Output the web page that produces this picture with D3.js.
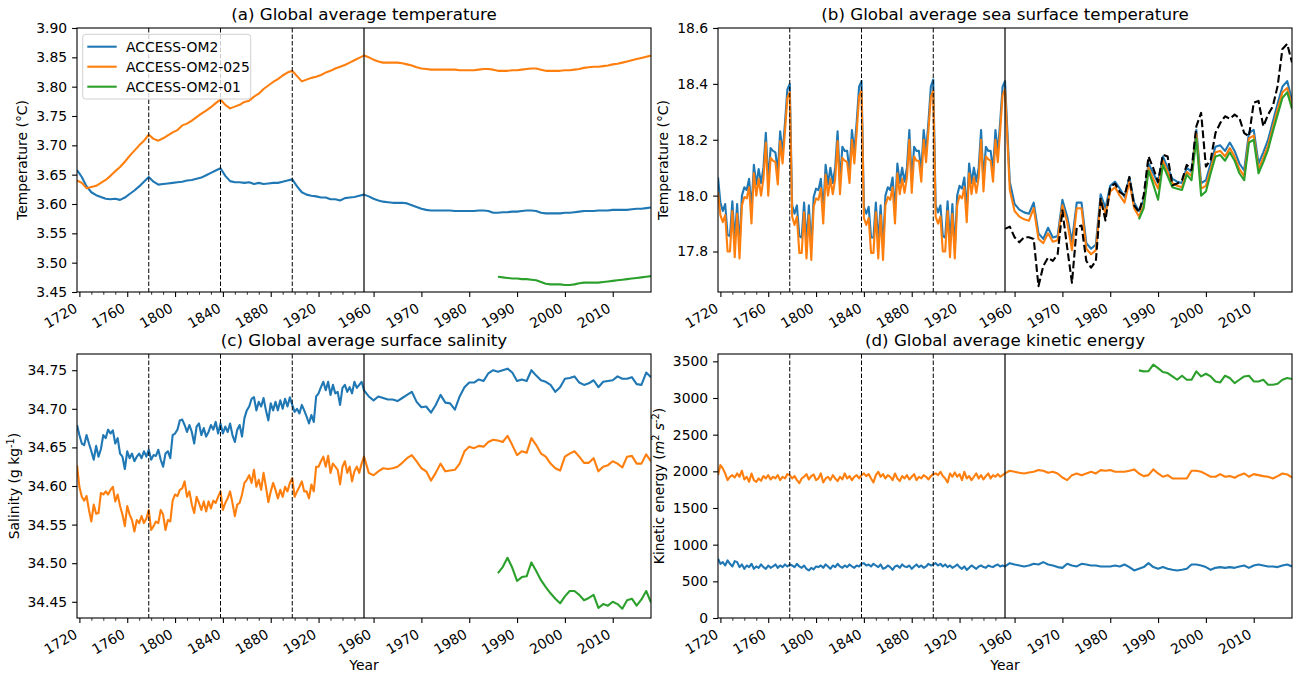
<!DOCTYPE html>
<html>
<head>
<meta charset="utf-8">
<script src="https://d3js.org/d3.v7.min.js"></script>
<style>
  body { margin: 0; background: #fff; }
  svg { display: block; font-family: "DejaVu Sans", sans-serif; }
</style>
</head>
<body>
<div id="chart"></div>
<script>
// ---- data ----
// spin-up years (4 repeats of the 1958-2018 forcing) and the final cycle
var spinYearsA = d3.range(1718, 1958, 4);   // panel (a) sampled every 4 years
var spinYears = d3.range(1718, 1958, 2);    // panels (b)-(d) sampled every 2 years
var finalYears = d3.range(1958, 2019);
var om01Years = d3.range(1986, 2019);

var models = ["ACCESS-OM2", "ACCESS-OM2-025", "ACCESS-OM2-01"];
var modelColor = ["#1f77b4", "#ff7f0e", "#2ca02c"];

var majorYears = [1720, 1760, 1800, 1840, 1880, 1920, 1960, 1970, 1980, 1990, 2000, 2010];
var minorYears = [1730, 1740, 1750, 1770, 1780, 1790, 1810, 1820, 1830, 1850, 1860, 1870,
                  1890, 1900, 1910, 1930, 1940, 1950];
var cycleEnds = [1778, 1838, 1898];
var spinEnd = 1958;

// (a) global average temperature
var aOm2Spin = [3.658, 3.646, 3.630, 3.620, 3.615, 3.612, 3.609, 3.608, 3.609, 3.607,
  3.611, 3.617, 3.623, 3.630, 3.638, 3.646, 3.638, 3.633, 3.634, 3.635,
  3.636, 3.637, 3.638, 3.640, 3.641, 3.643, 3.645, 3.649, 3.653, 3.657,
  3.661, 3.648, 3.639, 3.637, 3.637, 3.636, 3.637, 3.634, 3.636, 3.634,
  3.635, 3.636, 3.636, 3.638, 3.640, 3.642, 3.630, 3.620, 3.616, 3.614,
  3.613, 3.611, 3.611, 3.608, 3.608, 3.606, 3.610, 3.611, 3.612, 3.614];
var aOm2Final = [3.616, 3.613, 3.609, 3.606, 3.604, 3.603, 3.602, 3.602, 3.602, 3.601,
  3.598, 3.595, 3.592, 3.590, 3.589, 3.589, 3.589, 3.589, 3.589, 3.588,
  3.588, 3.588, 3.588, 3.588, 3.589, 3.589, 3.588, 3.585, 3.585, 3.586,
  3.586, 3.587, 3.587, 3.588, 3.589, 3.589, 3.588, 3.585, 3.584, 3.584,
  3.584, 3.584, 3.585, 3.585, 3.586, 3.587, 3.588, 3.588, 3.588, 3.589,
  3.589, 3.589, 3.590, 3.590, 3.590, 3.590, 3.591, 3.592, 3.592, 3.593, 3.594];
var aOm025Spin = [3.640, 3.636, 3.627, 3.629, 3.631, 3.636, 3.641, 3.648, 3.656, 3.663,
  3.672, 3.682, 3.691, 3.700, 3.708, 3.718, 3.711, 3.708, 3.712, 3.717,
  3.722, 3.726, 3.734, 3.737, 3.742, 3.748, 3.754, 3.759, 3.765, 3.772,
  3.778, 3.769, 3.763, 3.766, 3.769, 3.774, 3.776, 3.783, 3.788, 3.796,
  3.802, 3.808, 3.813, 3.819, 3.824, 3.827, 3.818, 3.809, 3.812, 3.815,
  3.817, 3.820, 3.824, 3.827, 3.831, 3.834, 3.837, 3.841, 3.845, 3.849];
var aOm025Final = [3.853, 3.850, 3.846, 3.843, 3.841, 3.841, 3.841, 3.841, 3.840, 3.838,
  3.836, 3.833, 3.831, 3.830, 3.829, 3.829, 3.829, 3.829, 3.829, 3.829,
  3.828, 3.828, 3.828, 3.828, 3.829, 3.830, 3.830, 3.829, 3.827, 3.827,
  3.827, 3.828, 3.828, 3.829, 3.830, 3.831, 3.831, 3.829, 3.827, 3.827,
  3.827, 3.827, 3.828, 3.828, 3.829, 3.830, 3.832, 3.833, 3.834, 3.834,
  3.835, 3.836, 3.838, 3.839, 3.841, 3.843, 3.845, 3.847, 3.849, 3.851, 3.853];
var aOm01 = [3.476, 3.475, 3.474, 3.473, 3.473, 3.472, 3.472, 3.471, 3.470, 3.467,
  3.464, 3.463, 3.463, 3.463, 3.462, 3.462, 3.463, 3.465, 3.466, 3.466,
  3.466, 3.466, 3.467, 3.468, 3.469, 3.470, 3.471, 3.472, 3.473, 3.474,
  3.475, 3.476, 3.477];

// (b) global average sea surface temperature
var bOm2Spin = [18.065, 17.975, 17.945, 17.97, 17.86, 17.855, 17.98, 17.84, 17.97, 17.815, 18.0,
  18.03, 18.02, 18.06, 17.95, 18.11, 18.04, 18.095, 18.045, 18.1, 18.225,
  18.05, 18.17, 18.16, 18.155, 18.085, 18.23, 18.15, 18.26, 18.38, 18.40,
  17.965, 17.935, 17.965, 17.855, 17.85, 17.975, 17.835, 17.965, 17.81, 17.995,
  18.025, 18.02, 18.06, 17.945, 18.11, 18.04, 18.1, 18.045, 18.1, 18.23,
  18.05, 18.175, 18.16, 18.16, 18.085, 18.235, 18.155, 18.265, 18.39, 18.41,
  17.96, 17.935, 17.96, 17.85, 17.85, 17.975, 17.83, 17.965, 17.81, 18.0,
  18.03, 18.02, 18.065, 17.945, 18.115, 18.045, 18.1, 18.05, 18.1, 18.235,
  18.055, 18.175, 18.16, 18.16, 18.09, 18.235, 18.155, 18.265, 18.39, 18.415,
  17.965, 17.94, 17.965, 17.855, 17.85, 17.98, 17.835, 17.97, 17.81, 18.0,
  18.035, 18.025, 18.065, 17.945, 18.115, 18.045, 18.1, 18.05, 18.1, 18.235,
  18.055, 18.175, 18.16, 18.16, 18.09, 18.235, 18.155, 18.265, 18.39];
var bOm2Final = [18.41, 18.05, 17.97, 17.95, 17.94, 17.935, 17.975, 17.865, 17.845, 17.885,
  17.85, 17.855, 17.985, 17.925, 17.835, 17.975, 17.975, 17.83, 17.81, 17.825,
  18.005, 17.955, 18.035, 18.05, 18.025, 17.995, 18.065, 17.975, 17.945, 17.985,
  18.115, 18.08, 18.045, 18.14, 18.1, 18.06, 18.05, 18.045, 18.1, 18.085,
  18.235, 18.045, 18.055, 18.115, 18.175, 18.18, 18.16, 18.19, 18.16, 18.115,
  18.09, 18.225, 18.235, 18.115, 18.155, 18.2, 18.265, 18.33, 18.39, 18.41, 18.34];
var bOm025Spin = [18.013, 17.93, 17.905, 17.93, 17.8, 17.8, 17.945, 17.78, 17.935, 17.775, 17.965,
  17.995, 17.99, 18.03, 17.9, 18.08, 18.0, 18.06, 18.0, 18.06, 18.19,
  18.0, 18.135, 18.125, 18.12, 18.04, 18.195, 18.115, 18.23, 18.35, 18.37,
  17.925, 17.895, 17.925, 17.795, 17.795, 17.94, 17.775, 17.93, 17.77, 17.96,
  17.99, 17.985, 18.025, 17.9, 18.075, 18.0, 18.06, 18.005, 18.06, 18.195,
  18.005, 18.135, 18.125, 18.12, 18.045, 18.2, 18.115, 18.23, 18.355, 18.375,
  17.92, 17.895, 17.92, 17.795, 17.795, 17.94, 17.775, 17.93, 17.77, 17.965,
  17.995, 17.985, 18.03, 17.9, 18.08, 18.005, 18.06, 18.01, 18.065, 18.2,
  18.01, 18.14, 18.125, 18.125, 18.05, 18.2, 18.12, 18.235, 18.355, 18.375,
  17.925, 17.9, 17.925, 17.8, 17.8, 17.945, 17.78, 17.935, 17.775, 17.965,
  18.0, 17.99, 18.03, 17.905, 18.08, 18.005, 18.065, 18.01, 18.065, 18.2,
  18.015, 18.14, 18.13, 18.125, 18.05, 18.2, 18.12, 18.235, 18.36];
var bOm025Final = [18.38, 18.02, 17.945, 17.925, 17.915, 17.91, 17.955, 17.845, 17.83, 17.865,
  17.835, 17.84, 17.965, 17.905, 17.805, 17.955, 17.955, 17.81, 17.79, 17.805,
  17.985, 17.935, 18.015, 18.03, 18.0, 17.975, 18.05, 17.955, 17.925, 17.965,
  18.1, 18.06, 18.025, 18.125, 18.085, 18.045, 18.035, 18.03, 18.085, 18.07,
  18.22, 18.025, 18.035, 18.095, 18.155, 18.16, 18.14, 18.17, 18.14, 18.095,
  18.07, 18.205, 18.215, 18.095, 18.135, 18.18, 18.245, 18.31, 18.37, 18.385, 18.32];
var bOm01 = [17.915, 17.955, 18.09, 18.04, 17.985, 18.11, 18.07, 18.03, 18.025, 18.02,
  18.075, 18.055, 18.205, 18.0, 18.015, 18.08, 18.14, 18.145, 18.125, 18.155,
  18.125, 18.08, 18.055, 18.19, 18.2, 18.08, 18.12, 18.165, 18.23, 18.29,
  18.35, 18.37, 18.31];
var bObs = [17.881, 17.889, 17.851, 17.833, 17.851, 17.851, 17.845, 17.676, 17.748, 17.778,
  17.766, 17.79, 17.947, 17.814, 17.688, 17.887, 17.893, 17.766, 17.742, 17.766,
  17.989, 17.911, 18.031, 18.043, 18.013, 18.001, 18.067, 17.965, 17.941, 18.001,
  18.14, 18.098, 18.049, 18.146, 18.14, 18.037, 18.043, 18.055, 18.11, 18.092,
  18.248, 18.296, 18.104, 18.128, 18.224, 18.26, 18.284, 18.275, 18.29, 18.278,
  18.224, 18.212, 18.333, 18.339, 18.248, 18.29, 18.32, 18.393, 18.525, 18.543, 18.477];

// (c) global average surface salinity
var cOm2Spin = [34.679, 34.666, 34.655, 34.653, 34.666, 34.655, 34.645, 34.634, 34.652, 34.638,
  34.648, 34.666, 34.662, 34.673, 34.668, 34.672, 34.655, 34.662, 34.642, 34.638,
  34.622, 34.645, 34.636, 34.642, 34.632, 34.638, 34.642, 34.636, 34.645, 34.638, 34.647,
  34.634, 34.640, 34.639, 34.647, 34.634, 34.625, 34.642, 34.645, 34.636, 34.666,
  34.668, 34.673, 34.685, 34.686, 34.679, 34.670, 34.679, 34.670, 34.655, 34.677,
  34.681, 34.666, 34.675, 34.664, 34.670, 34.679, 34.673, 34.683, 34.668, 34.681,
  34.668, 34.677, 34.670, 34.681, 34.666, 34.657, 34.673, 34.679, 34.664, 34.688,
  34.698, 34.703, 34.713, 34.715, 34.698, 34.709, 34.703, 34.714, 34.698, 34.685,
  34.707, 34.698, 34.709, 34.698, 34.711, 34.700, 34.713, 34.703, 34.715, 34.705,
  34.696, 34.700, 34.694, 34.705, 34.698, 34.690, 34.681, 34.692, 34.683, 34.716,
  34.720, 34.728, 34.735, 34.724, 34.735, 34.718, 34.731, 34.720, 34.722, 34.705,
  34.727, 34.731, 34.722, 34.728, 34.720, 34.735, 34.727, 34.731, 34.735];
var cOm2Final = [34.724, 34.716, 34.711, 34.716, 34.714, 34.712, 34.712, 34.710, 34.714, 34.718,
  34.722, 34.709, 34.702, 34.703, 34.695, 34.705, 34.718, 34.708, 34.707, 34.699,
  34.716, 34.728, 34.734, 34.734, 34.738, 34.736, 34.746, 34.750, 34.748, 34.750,
  34.752, 34.747, 34.736, 34.738, 34.736, 34.750, 34.743, 34.737, 34.735, 34.731,
  34.722, 34.728, 34.739, 34.740, 34.742, 34.734, 34.731, 34.733, 34.737, 34.728,
  34.735, 34.736, 34.737, 34.742, 34.739, 34.739, 34.741, 34.732, 34.731, 34.747, 34.741];
var cOm025Spin = [34.627, 34.599, 34.586, 34.581, 34.587, 34.569, 34.554, 34.576, 34.564, 34.565,
  34.591, 34.589, 34.593, 34.589, 34.595, 34.599, 34.580, 34.589, 34.574, 34.563,
  34.548, 34.574, 34.563, 34.556, 34.541, 34.556, 34.552, 34.561, 34.552, 34.558, 34.569,
  34.543, 34.548, 34.554, 34.552, 34.569, 34.563, 34.543, 34.556, 34.554, 34.581,
  34.589, 34.587, 34.595, 34.597, 34.606, 34.586, 34.593, 34.576, 34.565, 34.586,
  34.578, 34.569, 34.580, 34.567, 34.580, 34.571, 34.581, 34.578, 34.586, 34.593,
  34.569, 34.578, 34.584, 34.593, 34.578, 34.561, 34.576, 34.578, 34.589, 34.604,
  34.608, 34.614, 34.604, 34.621, 34.599, 34.608, 34.595, 34.617, 34.599, 34.579,
  34.593, 34.604, 34.595, 34.584, 34.595, 34.586, 34.599, 34.593, 34.604, 34.610,
  34.586, 34.593, 34.599, 34.606, 34.593, 34.593, 34.584, 34.602, 34.593, 34.625,
  34.625, 34.632, 34.638, 34.625, 34.639, 34.617, 34.629, 34.625, 34.621, 34.602,
  34.625, 34.632, 34.617, 34.625, 34.606, 34.619, 34.625, 34.617, 34.629];
var cOm025Final = [34.638, 34.617, 34.614, 34.619, 34.623, 34.622, 34.623, 34.625, 34.630, 34.636,
  34.640, 34.632, 34.623, 34.619, 34.607, 34.617, 34.629, 34.619, 34.620, 34.621,
  34.629, 34.645, 34.651, 34.649, 34.652, 34.651, 34.657, 34.660, 34.659, 34.657,
  34.665, 34.653, 34.640, 34.645, 34.643, 34.662, 34.653, 34.642, 34.638, 34.629,
  34.623, 34.620, 34.638, 34.642, 34.645, 34.638, 34.630, 34.630, 34.636, 34.619,
  34.625, 34.627, 34.632, 34.629, 34.624, 34.638, 34.639, 34.629, 34.629, 34.641, 34.632];
var cOm01 = [34.487, 34.495, 34.507, 34.494, 34.477, 34.482, 34.483, 34.501, 34.490, 34.478,
  34.469, 34.461, 34.454, 34.448, 34.457, 34.464, 34.464, 34.459, 34.452, 34.455,
  34.459, 34.442, 34.447, 34.445, 34.450, 34.447, 34.441, 34.452, 34.454, 34.445,
  34.453, 34.464, 34.449];

// (d) global average kinetic energy
var dOm2Spin = [808, 739, 762, 716, 785, 739, 703, 776, 762, 694,
  730, 671, 716, 694, 739, 671, 703, 684, 730, 694,
  671, 716, 684, 703, 730, 684, 716, 694, 730, 703, 730,
  716, 694, 739, 703, 684, 716, 671, 648, 684, 662,
  703, 694, 716, 684, 730, 703, 671, 716, 694, 739,
  703, 684, 716, 694, 730, 703, 684, 716, 703, 739,
  748, 716, 730, 703, 739, 716, 694, 730, 671, 684,
  716, 694, 657, 703, 716, 684, 730, 703, 694, 716,
  671, 703, 730, 694, 716, 684, 703, 739, 716, 730,
  748, 716, 739, 703, 730, 694, 716, 684, 703, 730,
  694, 671, 703, 657, 684, 716, 694, 671, 703, 716,
  694, 684, 716, 703, 694, 716, 730, 703, 716];
var dOm2Final = [703, 748, 730, 716, 703, 716, 739, 730, 762, 730,
  716, 694, 684, 739, 716, 703, 739, 730, 716, 716,
  703, 703, 703, 716, 703, 730, 694, 648, 671, 694,
  748, 694, 671, 694, 671, 657, 648, 657, 671, 730,
  730, 716, 694, 657, 684, 694, 684, 694, 684, 703,
  716, 684, 716, 730, 716, 703, 703, 694, 716, 730, 703];
var dOm025Spin = [1948, 2085, 2040, 1971, 1880, 1926, 1948, 1916, 1971, 1926,
  2008, 1889, 1926, 1857, 1971, 1880, 1857, 1903, 1871, 1935,
  1903, 1948, 1889, 1926, 1903, 1948, 1880, 1926, 1903, 1962, 1948,
  1903, 1935, 1880, 1840, 1903, 1926, 1962, 1889, 1935, 1957,
  1880, 1903, 1971, 1848, 1903, 1926, 1880, 1948, 1903, 1866,
  1926, 1890, 1971, 1903, 1935, 1880, 1926, 1948, 1903, 1948,
  1971, 1935, 1962, 1903, 1848, 1948, 1994, 1926, 1962, 1903,
  1948, 1926, 1880, 1971, 1903, 1866, 1935, 1903, 1948, 1889,
  1926, 1962, 1880, 1926, 1903, 1948, 1926, 1889, 1935, 1962,
  1971, 1948, 1994, 1935, 1903, 1848, 1971, 1926, 1985, 1926,
  1962, 1880, 1994, 1903, 1935, 1880, 1926, 1971, 1903, 1948,
  1889, 1935, 1971, 1903, 1948, 1926, 1962, 1926, 1948];
var dOm025Final = [1971, 2008, 1994, 1980, 1971, 1985, 1994, 2017, 2008, 1980,
  1994, 1971, 1916, 1880, 1948, 1971, 1948, 1971, 1994, 1971,
  2017, 2008, 2017, 1994, 1994, 1994, 2008, 2026, 1971, 1935,
  1948, 2026, 1971, 1926, 1948, 1903, 1903, 1903, 1903, 2008,
  2008, 1994, 1962, 1926, 1926, 1962, 1926, 1935, 1912, 1948,
  1971, 1926, 1962, 1948, 1935, 1926, 1903, 1935, 1971, 1958, 1916];
var dOm01 = [3377, 3363, 3367, 3454, 3408, 3354, 3340, 3294, 3249, 3304,
  3249, 3249, 3363, 3294, 3331, 3294, 3226, 3212, 3304, 3272,
  3203, 3249, 3294, 3304, 3226, 3226, 3249, 3180, 3180, 3194,
  3249, 3272, 3258];

var tempTicks = [3.45, 3.50, 3.55, 3.60, 3.65, 3.70, 3.75, 3.80, 3.85, 3.90];
var sstTicks = [17.8, 18.0, 18.2, 18.4, 18.6];
var saltTicks = [34.45, 34.50, 34.55, 34.60, 34.65, 34.70, 34.75];
var keTicks = [0, 500, 1000, 1500, 2000, 2500, 3000, 3500];

// ---- layout ----
var W = 574, H = 264;
var tickFont = 13.9, titleFont = 16.7, legendFont = 13.9;

var svg = d3.select("#chart")
  .append("svg")
    .attr("width", 1293)
    .attr("height", 675);

// spin-up years are squeezed 4:1 so the four cycles take the left half of the axis
function yearToT(yr) {
  return yr <= 1958 ? (yr - 1718) / 4 : 60 + (yr - 1958);
}

function series(years, values, color, dash) {
  return {years: years, values: values, color: color, dash: dash};
}

var panels = [
  {id: "a", left: 77, top: 28, title: "(a) Global average temperature",
   yDomain: [3.45, 3.90], yTicks: tempTicks, yFmt: d3.format(".2f"), ylabX: 27,
   ylab: [{t: "Temperature (°C)"}], legend: true, xlab: false,
   series: [series(spinYearsA.concat(finalYears), aOm2Spin.concat(aOm2Final), modelColor[0]),
            series(spinYearsA.concat(finalYears), aOm025Spin.concat(aOm025Final), modelColor[1]),
            series(om01Years, aOm01, modelColor[2])]},
  {id: "b", left: 718, top: 28, title: "(b) Global average sea surface temperature",
   yDomain: [17.655, 18.6], yTicks: sstTicks, yFmt: d3.format(".1f"), ylabX: 668,
   ylab: [{t: "Temperature (°C)"}], legend: false, xlab: false,
   series: [series(spinYears.concat(finalYears), bOm2Spin.concat(bOm2Final), modelColor[0]),
            series(spinYears.concat(finalYears), bOm025Spin.concat(bOm025Final), modelColor[1]),
            series(om01Years, bOm01, modelColor[2]),
            series(finalYears, bObs, "#000", "7.7,3.3")]},
  {id: "c", left: 77, top: 354, title: "(c) Global average surface salinity",
   yDomain: [34.429, 34.771], yTicks: saltTicks, yFmt: d3.format(".2f"), ylabX: 19,
   ylab: [{t: "Salinity (g kg"}, {t: "-1", sup: true}, {t: ")"}], legend: false, xlab: true,
   series: [series(spinYears.concat(finalYears), cOm2Spin.concat(cOm2Final), modelColor[0]),
            series(spinYears.concat(finalYears), cOm025Spin.concat(cOm025Final), modelColor[1]),
            series(om01Years, cOm01, modelColor[2])]},
  {id: "d", left: 718, top: 354, title: "(d) Global average kinetic energy",
   yDomain: [0, 3600], yTicks: keTicks, yFmt: d3.format("d"), ylabX: 664,
   ylab: [{t: "Kinetic energy ("}, {t: "m", it: true}, {t: "2", sup: true}, {t: " "},
          {t: "s", it: true}, {t: "-2", sup: true}, {t: ")"}], legend: false, xlab: true,
   series: [series(spinYears.concat(finalYears), dOm2Spin.concat(dOm2Final), modelColor[0]),
            series(spinYears.concat(finalYears), dOm025Spin.concat(dOm025Final), modelColor[1]),
            series(om01Years, dOm01, modelColor[2])]}
];

function drawPanel(p) {
  var g = svg.append("g")
    .attr("transform", "translate(" + p.left + "," + p.top + ")");

  var x = d3.scaleLinear().domain([0, 120]).range([0, W]);
  var y = d3.scaleLinear().domain(p.yDomain).range([H, 0]);

  g.append("clipPath")
    .attr("id", "clip-" + p.id)
    .append("rect")
      .attr("width", W)
      .attr("height", H);

  var line = d3.line()
    .x(function(d) { return x(yearToT(d[0])); })
    .y(function(d) { return y(d[1]); });

  p.series.forEach(function(s) {
    g.append("path")
      .datum(d3.zip(s.years, s.values))
      .attr("clip-path", "url(#clip-" + p.id + ")")
      .attr("fill", "none")
      .attr("stroke", s.color)
      .attr("stroke-width", 2.1)
      .attr("stroke-linejoin", "round")
      .attr("stroke-dasharray", s.dash || null)
      .attr("d", line);
  });

  // end of each spin-up cycle, and the start of the last cycle
  cycleEnds.forEach(function(yr) {
    g.append("line")
      .attr("x1", x(yearToT(yr))).attr("x2", x(yearToT(yr)))
      .attr("y1", 0).attr("y2", H)
      .attr("stroke", "#000")
      .attr("stroke-width", 1)
      .attr("stroke-dasharray", "4.5,2");
  });
  g.append("line")
    .attr("x1", x(yearToT(spinEnd))).attr("x2", x(yearToT(spinEnd)))
    .attr("y1", 0).attr("y2", H)
    .attr("stroke", "#111")
    .attr("stroke-width", 1.3);

  // x axis: major ticks with rotated labels, then the minor spin-up ticks
  var gx = g.append("g")
    .attr("transform", "translate(0," + H + ")")
    .call(d3.axisBottom(x)
      .tickValues(majorYears.map(yearToT))
      .tickFormat(function(d, i) { return majorYears[i]; })
      .tickSize(4.9).tickSizeOuter(0).tickPadding(0));
  gx.attr("font-family", "DejaVu Sans").attr("font-size", tickFont);
  gx.select(".domain").remove();
  gx.selectAll("line").attr("stroke-width", 1.1);
  gx.selectAll("text")
    .attr("y", 0)
    .attr("dy", null)
    .attr("fill", "#000")
    .attr("text-anchor", "end")
    .attr("transform", "translate(-1.6,19) rotate(-30)");

  var gm = g.append("g")
    .attr("transform", "translate(0," + H + ")")
    .call(d3.axisBottom(x)
      .tickValues(minorYears.map(yearToT))
      .tickFormat("")
      .tickSize(2.8).tickSizeOuter(0));
  gm.select(".domain").remove();
  gm.selectAll("line").attr("stroke-width", 0.8);

  var gy = g.append("g")
    .call(d3.axisLeft(y)
      .tickValues(p.yTicks)
      .tickFormat(p.yFmt)
      .tickSize(4.9).tickSizeOuter(0).tickPadding(4.9));
  gy.attr("font-family", "DejaVu Sans").attr("font-size", tickFont);
  gy.select(".domain").remove();
  gy.selectAll("line").attr("stroke-width", 1.1);
  gy.selectAll("text").attr("fill", "#000");

  // frame
  g.append("rect")
    .attr("width", W)
    .attr("height", H)
    .attr("fill", "none")
    .attr("stroke", "#000")
    .attr("stroke-width", 1.1);

  g.append("text")
    .attr("x", W / 2)
    .attr("y", -8.3)
    .attr("text-anchor", "middle")
    .attr("font-size", titleFont)
    .text(p.title);

  var yl = svg.append("text")
    .attr("transform", "translate(" + p.ylabX + "," + (p.top + H / 2) + ") rotate(-90)")
    .attr("text-anchor", "middle")
    .attr("font-size", tickFont);
  p.ylab.forEach(function(part) {
    var ts = yl.append("tspan").text(part.t);
    if (part.it) ts.attr("font-style", "italic");
    if (part.sup) ts.attr("font-size", tickFont * 0.7).attr("baseline-shift", "super");
  });

  if (p.xlab) {
    g.append("text")
      .attr("x", W / 2)
      .attr("y", H + 52)
      .attr("text-anchor", "middle")
      .attr("font-size", tickFont)
      .text("Year");
  }

  if (p.legend) {
    var lg = g.append("g").attr("transform", "translate(5.7,6.3)");
    lg.append("rect")
      .attr("width", 168)
      .attr("height", 64.7)
      .attr("rx", 3)
      .attr("fill", "#fff")
      .attr("fill-opacity", 0.8)
      .attr("stroke", "#d0d0d0")
      .attr("stroke-width", 1);
    models.forEach(function(m, i) {
      var ly = 12.4 + i * 20;
      lg.append("line")
        .attr("x1", 4.6).attr("x2", 34)
        .attr("y1", ly).attr("y2", ly)
        .attr("stroke", modelColor[i])
        .attr("stroke-width", 2.1);
      lg.append("text")
        .attr("x", 43.3)
        .attr("y", ly)
        .attr("dy", "0.35em")
        .attr("font-size", legendFont)
        .text(m);
    });
  }
}

panels.forEach(drawPanel);
</script>
</body>
</html>
